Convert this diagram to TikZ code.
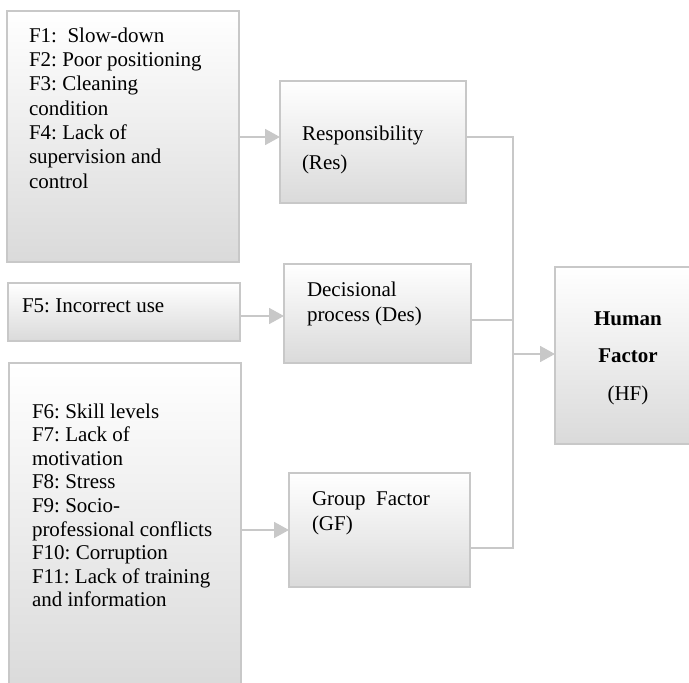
\documentclass[tikz,border=0pt]{standalone}
\usepackage{fontspec}
\setmainfont{Liberation Serif}
\usetikzlibrary{arrows.meta}
\definecolor{edge}{HTML}{C8C8C8}
\definecolor{shadebot}{HTML}{DADADA}
\newcommand\mylines[3]{\fontsize{21}{#1}\selectfont\frenchspacing\begin{tabular}[t]{@{}#2@{}}#3\end{tabular}}
\tikzset{
  box/.style={draw=edge, line width=1.8pt, top color=white, bottom color=shadebot, inner sep=0pt, outer sep=0pt},
  txt/.style={anchor=base west, inner sep=0pt, outer sep=0pt},
  conn/.style={draw=edge, line width=1.8pt},
  arr/.style={conn, -{Triangle[length=15pt, width=16pt]}, shorten >=0pt}
}
\begin{document}
\begin{tikzpicture}[x=1pt, y=-1pt]
\useasboundingbox (0,0) rectangle (689,683);
\clip (0,0) rectangle (689,683);
% boxes
\node[box, minimum width=232pt, minimum height=251pt] (b1) at (123,136.5) {};
\node[box, minimum width=232pt, minimum height=58pt] (f5) at (124,312) {};
\node[box, minimum width=232pt, minimum height=327pt] (b3) at (125,526.5) {};
\node[box, minimum width=186pt, minimum height=122pt] (res) at (373,142) {};
\node[box, minimum width=187pt, minimum height=99pt] (des) at (377.5,313.5) {};
\node[box, minimum width=181pt, minimum height=114pt] (gf) at (379.5,530) {};
\node[box, minimum width=146pt, minimum height=177pt] (hf) at (628,355.5) {};
% texts
\node[txt] (t1) at (29,42.3) {\mylines{24.3}{l}{F1:\ \ Slow-down\\F2: Poor positioning\\F3: Cleaning\\condition\\F4: Lack of\\supervision and\\control}};
\node[txt] (t5) at (22,312) {\mylines{25}{l}{F5: Incorrect use}};
\node[txt] (t3) at (32,418) {\mylines{23.6}{l}{F6: Skill levels\\F7: Lack of\\motivation\\F8: Stress\\F9: Socio-\\professional conflicts\\F10: Corruption\\F11: Lack of training\\and information}};
\node[txt] (tres) at (302,140) {\mylines{29}{l}{Responsibility\\(Res)}};
\node[txt] (tdes) at (307,296) {\mylines{25}{l}{Decisional\\process (Des)}};
\node[txt] (tgf) at (312,505.5) {\mylines{24.5}{l}{Group\ \ Factor\\(GF)}};
\node[anchor=base, inner sep=0pt] (thf) at (628,325) {\mylines{37.8}{c}{\textbf{Human}\\\textbf{Factor}\\(HF)}};
% connectors
\coordinate (j) at (513,354);
\draw[arr] (b1.east |- 0,137) -- (res.west |- 0,137);
\draw[arr] (f5.east |- 0,316) -- (des.west |- 0,316);
\draw[arr] (b3.east |- 0,530) -- (gf.west |- 0,530);
\draw[conn] (res.east |- 0,137) -| (j |- 0,548) -- (gf.east |- 0,548);
\draw[conn] (des.east |- 0,320) -- (j |- 0,320);
\draw[arr] (j) -- (hf.west |- j);
\end{tikzpicture}
\end{document}
